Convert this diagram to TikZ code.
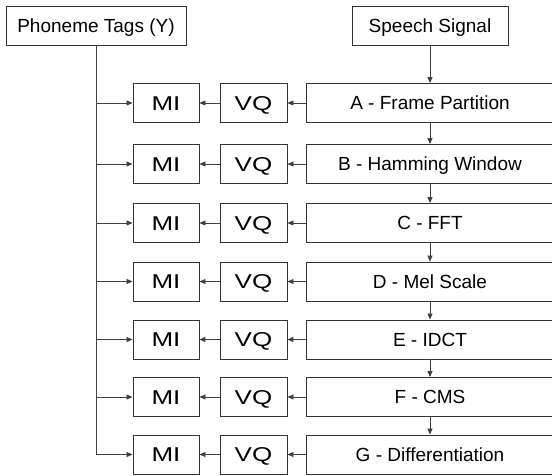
\documentclass[tikz,border=0pt]{standalone}
\usepackage{fontspec}
\setmainfont{Liberation Sans}
\newfontfamily\widefont[FakeStretch=1.3]{Liberation Sans}
\usetikzlibrary{arrows.meta}
\begin{document}
\begin{tikzpicture}[x=1pt,y=-1pt,
  box/.style={draw=black!80, line width=0.9pt, inner sep=0pt, minimum height=39pt, text height=13.6pt, text depth=0pt, font=\fontsize{19}{21}\selectfont},
  mibox/.style={box, minimum width=66pt, text height=14.3pt, font=\widefont\fontsize{20}{22}\selectfont},
  vqbox/.style={box, minimum width=67pt, text height=14.3pt, font=\widefont\fontsize{20}{22}\selectfont},
  stepbox/.style={box, minimum width=248pt},
  conn/.style={draw=black!75, line width=0.8pt, -{Triangle[length=6pt,width=5pt]}},
  trunk/.style={draw=black!75, line width=0.8pt}]
\useasboundingbox (0,0) rectangle (552,475);
\node[box, minimum width=180pt] (tags) at (96,25.5) {Phoneme Tags (Y)};
\node[box, minimum width=156pt] (sig) at (430,25.5) {Speech Signal};
\foreach \n/\y/\t in {a/103/A - Frame Partition, b/164/B - Hamming Window, c/223/C - FFT, d/281.5/D - Mel Scale, e/339.5/E - IDCT, f/397/F - CMS, g/454.5/G - Differentiation}
{
  \node[mibox] (mi\n) at (166,\y) {MI};
  \node[vqbox] (vq\n) at (253.5,\y) {VQ};
  \node[stepbox] (st\n) at (430,\y) {\t};
  \coordinate (j\n) at (96,\y);
  \draw[conn] (st\n) -- (vq\n);
  \draw[conn] (vq\n) -- (mi\n);
  \draw[conn] (j\n) -- (mi\n);
}
\draw[trunk] (tags.south) -- (jg);
\draw[conn] (sig) -- (sta);
\foreach \p/\q in {a/b, b/c, c/d, d/e, e/f, f/g}
  \draw[conn] (st\p) -- (st\q);
\end{tikzpicture}
\end{document}
